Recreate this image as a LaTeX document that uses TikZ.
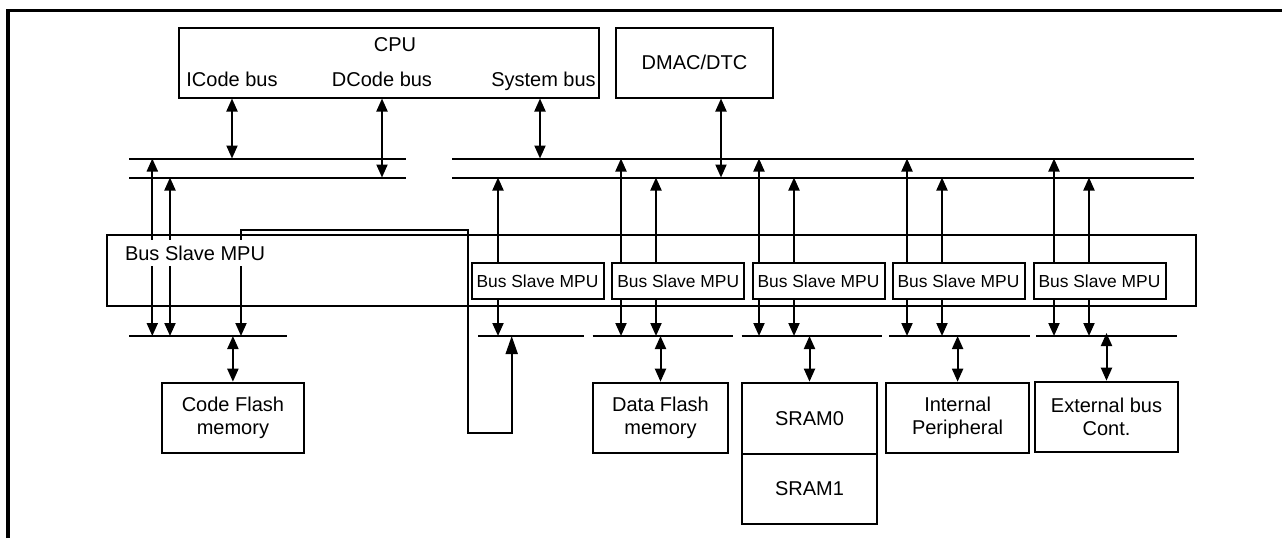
\documentclass[tikz,border=0pt]{standalone}
\usepackage{fontspec}
\setmainfont{Liberation Sans}
\usetikzlibrary{arrows.meta, positioning, calc}

\begin{document}
\begin{tikzpicture}[x=1pt, y=-1pt, line width=2pt,
  box/.style={rectangle, draw, inner sep=0pt, align=center, font=\fontsize{20}{23.3}\selectfont},
  mpu/.style={rectangle, draw, inner sep=0pt, minimum width=132pt, minimum height=36pt, font=\fontsize{17.4}{20}\selectfont},
  lbl/.style={anchor=base, inner sep=0pt, font=\fontsize{20}{23.3}\selectfont},
  bus/.style={line width=2pt},
  >={Triangle[length=13pt, width=11pt]}]
\useasboundingbox (0,0) rectangle (1282,538);
\draw[line width=3.5pt] (8,538) -- (8,10.5) -- (1282,10.5);
\node[box, minimum width=420pt, minimum height=70pt] (cpu) at (389,62.5) {};
\node[lbl] (cputxt) at (395,51) {CPU};
\node[lbl] (icode) at (232,86) {ICode bus};
\node[lbl] (dcode) at (382,86) {DCode bus};
\node[lbl] (sysbus) at (543.5,86) {System bus};
\node[box, minimum width=157pt, minimum height=70pt] (dmac) at (694.5,62.5) {DMAC/DTC};
\coordinate (la1) at (129,158.5); \coordinate (la2) at (406,158.5);
\coordinate (lb1) at (129,177.5); \coordinate (lb2) at (406,177.5);
\coordinate (ra1) at (452,158.5); \coordinate (ra2) at (1194,158.5);
\coordinate (rb1) at (452,177.5); \coordinate (rb2) at (1194,177.5);
\draw[bus] (la1) -- (la2); \draw[bus] (lb1) -- (lb2);
\draw[bus] (ra1) -- (ra2); \draw[bus] (rb1) -- (rb2);
\draw[<->] (cpu.south -| icode) -- (la1 -| icode);
\draw[<->] (cpu.south -| dcode) -- (lb1 -| dcode);
\draw[<->] ([xshift=-3.5pt]sysbus.base |- cpu.south) -- ([xshift=-3.5pt]sysbus.base |- ra1);
\draw[<->] ([xshift=26.5pt]dmac.south) coordinate (dm) -- (dm |- rb1);
\node[draw, minimum width=1089pt, minimum height=71pt, inner sep=0pt] (mpubig) at (651.3,270.5) {};
\foreach \i/\x in {1/537.5, 2/678.2, 3/818.5, 4/958.5, 5/1099.5}
  \node[mpu] (m\i) at (\x,281.2) {Bus Slave MPU};
\coordinate (cfb) at (129,336); \coordinate (cfbe) at (287,336);
\coordinate (s1) at (478,336); \coordinate (s1e) at (584,336);
\coordinate (s2) at (592.7,336); \coordinate (s2e) at (733.3,336);
\coordinate (s3) at (741.7,336); \coordinate (s3e) at (881.7,336);
\coordinate (s4) at (889.3,336); \coordinate (s4e) at (1030,336);
\coordinate (s5) at (1036,336); \coordinate (s5e) at (1176.7,336);
\foreach \a/\b in {cfb/cfbe, s1/s1e, s2/s2e, s3/s3e, s4/s4e, s5/s5e}
  \draw[bus] (\a) -- (\b);
\node[box, minimum width=142.3pt, minimum height=70pt] (cflash) at (232.9,417.7) {Code Flash\\memory};
\node[box, minimum width=135.6pt, minimum height=70pt] (dflash) at (660.5,417.7) {Data Flash\\memory};
\node[box, minimum width=135.6pt, minimum height=71.3pt] (sram0) at (809.5,418.3) {SRAM0};
\node[box, minimum width=135.6pt, minimum height=70pt, below=-2pt of sram0] (sram1) {SRAM1};
\node[box, minimum width=143.3pt, minimum height=70pt] (periph) at (957.6,417.7) {Internal\\Peripheral};
\node[box, minimum width=142.4pt, minimum height=70pt] (extbus) at (1106.5,416.7) {External bus\\Cont.};
\draw[<->] (cfb -| cflash) -- (cflash.north);
\draw[<->] (s2 -| dflash) -- (dflash.north);
\draw[<->] (s3 -| sram0) -- (sram0.north);
\draw[<->] (s4 -| periph) -- (periph.north);
\draw[<->] ([yshift=3pt]s5 -| extbus) -- (extbus.north);
\foreach \x/\b in {152.3/la1, 170/lb1}
  \draw[<->] (\b -| \x,0) -- (cfb -| \x,0);
\foreach \x/\b/\i in {498/rb1/1, 621/ra1/2, 656/rb1/2, 759/ra1/3, 794/rb1/3, 907/ra1/4, 942/rb1/4, 1054/ra1/5, 1089/rb1/5} {
  \draw[->] (m\i.north -| \x,0) -- (\b -| \x,0);
  \draw[->] (m\i.south -| \x,0) -- (s\i -| \x,0);
}
\draw[line width=1.8pt, {Triangle[length=18pt, width=12pt]}->] (s1 -| 511.7,0) -- (511.7,433.3) -| (467.7,230) -| (cfb -| 241,0);
\node[anchor=base west, fill=white, inner xsep=1pt, inner ysep=5.5pt, font=\fontsize{20}{23.3}\selectfont] (mpulbl) at (123,260) {Bus Slave MPU};
\end{tikzpicture}
\end{document}
